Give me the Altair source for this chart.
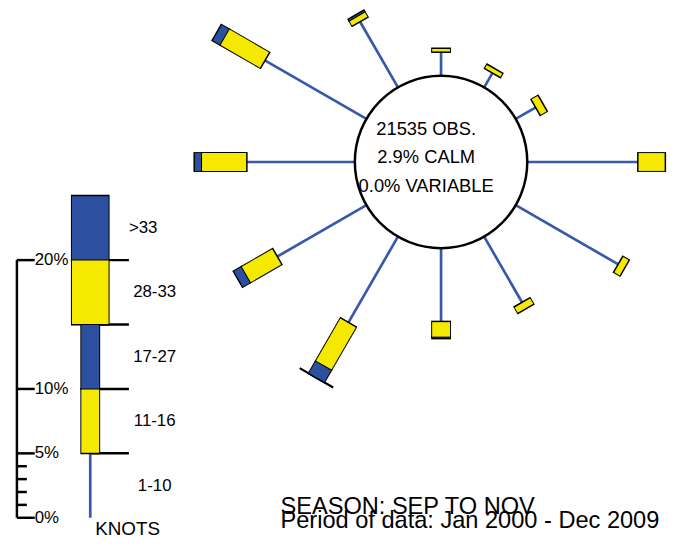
import altair as alt
import pandas as pd
import numpy as np

# ---------------- data ----------------
directions = [0, 30, 60, 90, 120, 150, 180, 210, 240, 270, 300, 330]
pct_1_10 = [1.85, 1.3, 1.8, 8.6, 9.2, 5.9, 5.7, 7.7, 8.0, 8.4, 9.1, 5.9]
pct_11_16 = [0.27, 0.35, 0.6, 2.1, 0.55, 0.55, 1.2, 3.85, 2.8, 3.5, 3.6, 0.45]
pct_17_27 = [0, 0, 0, 0, 0, 0, 0.1, 1.1, 0.7, 0.55, 0.7, 0.15]
pct_28_33 = [0, 0, 0, 0, 0, 0, 0, 0.01, 0, 0, 0, 0]
pct_gt_33 = [0, 0, 0, 0, 0, 0, 0, 0, 0, 0, 0, 0]

speed_labels = ["1-10", "11-16", "17-27", "28-33", ">33"]
legend_step = 5
axis_major = [0, 5, 10, 20]
axis_minor = [1, 2, 3, 4]
right_ticks = [5, 10, 15, 20]
obs_lines = ["21535 OBS.", "2.9% CALM", "0.0% VARIABLE"]
footer_lines = ["SEASON: SEP TO NOV", "Period of data: Jan 2000 - Dec 2009"]
units_label = "KNOTS"

# ---------------- layout / style constants ----------------
W, H = 665, 530
PX = 13.0                      # pixels per 1 %
CX, CY = 437, 153              # rose centre (plot px)
XMIN, XMAX = -CX / PX, (W - CX) / PX
YMIN, YMAX = -(H - CY) / PX, CY / PX
R = 87 / PX                    # calm circle radius in % units

def px_x(p):
    return (p - CX) / PX

def px_y(p):
    return (CY - p) / PX

YELLOW = "#f6e900"
BLUE = "#2d4f9f"
LINE_BLUE = "#3858a8"
FONT = "Liberation Sans"

series = [pct_1_10, pct_11_16, pct_17_27, pct_28_33, pct_gt_33]
seg_color = {1: YELLOW, 2: BLUE, 3: YELLOW, 4: BLUE}
seg_width = {1: (20, 18), 2: (20, 18), 3: (39, 37), 4: (39, 37)}
E = 1.0 / PX
F = 0.5 / PX

lines, outl, fills = [], [], []

def add_segment(k, p0, p1, ux, uy, ox, oy):
    if k == 0:
        lines.append(dict(x=ox + p0 * ux, y=oy + p0 * uy, x2=ox + p1 * ux, y2=oy + p1 * uy))
        return
    wo, wf = seg_width[k]
    outl.append(dict(x=ox + (p0 - E) * ux, y=oy + (p0 - E) * uy,
                     x2=ox + (p1 + E) * ux, y2=oy + (p1 + E) * uy, w=wo))
    if p1 - p0 > 2 * F:
        fills.append(dict(x=ox + (p0 + F) * ux, y=oy + (p0 + F) * uy,
                          x2=ox + (p1 - F) * ux, y2=oy + (p1 - F) * uy,
                          w=wf, c=seg_color[k]))

# rose
for i, d in enumerate(directions):
    th = np.radians(d)
    ux, uy = np.sin(th), np.cos(th)
    r = R
    for k, s in enumerate(series):
        v = s[i]
        if v <= 0:
            continue
        add_segment(k, r, r + v, ux, uy, 0.0, 0.0)
        r += v

# legend bar
LX = px_x(83)
BASE = px_y(512)
for k in range(len(speed_labels)):
    add_segment(k, k * legend_step, (k + 1) * legend_step, 0.0, 1.0, LX, BASE)

df_lines = pd.DataFrame(lines)
df_out = pd.DataFrame(outl)
df_fill = pd.DataFrame(fills)

xs = alt.Scale(domain=[XMIN, XMAX], nice=False, zero=False)
ys = alt.Scale(domain=[YMIN, YMAX], nice=False, zero=False)

def X(f="x"):
    return alt.X(f + ":Q", scale=xs, axis=None)

def Y(f="y"):
    return alt.Y(f + ":Q", scale=ys, axis=None)

AX = px_x(9)
TICK_MAJ = 18 / PX
TICK_MIN = 10 / PX
RX = px_x(122)

ticks = []
for p in axis_major:
    ticks.append(dict(x=AX, x2=AX + TICK_MAJ, y=BASE + p, y2=BASE + p))
for p in axis_minor:
    ticks.append(dict(x=AX, x2=AX + TICK_MIN, y=BASE + p, y2=BASE + p))
ticks.append(dict(x=AX, x2=AX, y=BASE, y2=BASE + max(axis_major)))
for p in right_ticks:
    ticks.append(dict(x=LX, x2=RX, y=BASE + p, y2=BASE + p))
df_ticks = pd.DataFrame(ticks)

df_axlab = pd.DataFrame(dict(x=[AX + TICK_MAJ] * len(axis_major),
                             y=[BASE + p for p in axis_major],
                             t=[f"{p}%" for p in axis_major]))
mid = [BASE + (k + 0.5) * legend_step for k in range(len(speed_labels))]
df_leg = pd.DataFrame(dict(x=[px_x(148)] * 4, y=mid[:4], t=speed_labels[:4]))
df_leg2 = pd.DataFrame(dict(x=[px_x(122)], y=[mid[4]], t=[speed_labels[4]]))
df_units = pd.DataFrame(dict(x=[px_x(88)], y=[px_y(529)], t=[units_label]))
df_obs = pd.DataFrame(dict(x=[px_x(422)] * 3,
                           y=[px_y(125.5), px_y(154.5), px_y(183)], t=obs_lines))
df_foot = pd.DataFrame(dict(x=[px_x(275)] * 2, y=[px_y(508), px_y(522)], t=footer_lines))
df_circle = pd.DataFrame(dict(x=[0.0], y=[0.0]))

layer_ticks = alt.Chart(df_ticks).mark_rule(color="black", strokeWidth=2.5).encode(
    x=X(), y=Y(), x2="x2:Q", y2="y2:Q")
layer_lines = alt.Chart(df_lines).mark_rule(color=LINE_BLUE, strokeWidth=2.7).encode(
    x=X(), y=Y(), x2="x2:Q", y2="y2:Q")
layer_out = alt.Chart(df_out).mark_rule(color="black", strokeCap="butt").encode(
    x=X(), y=Y(), x2="x2:Q", y2="y2:Q",
    strokeWidth=alt.StrokeWidth("w:Q", scale=None))
layer_fill = alt.Chart(df_fill).mark_rule(strokeCap="butt").encode(
    x=X(), y=Y(), x2="x2:Q", y2="y2:Q",
    strokeWidth=alt.StrokeWidth("w:Q", scale=None),
    color=alt.Color("c:N", scale=None))
layer_circle = alt.Chart(df_circle).mark_circle(
    size=174 ** 2, fill="white", stroke="black", strokeWidth=2.5, opacity=1
).encode(x=X(), y=Y())

def text_layer(df, size, align="left", baseline="middle"):
    return alt.Chart(df).mark_text(font=FONT, fontSize=size, align=align,
                                   baseline=baseline, color="black").encode(
        x=X(), y=Y(), text="t:N")

chart = alt.layer(
    layer_ticks,
    layer_lines,
    layer_out,
    layer_fill,
    layer_circle,
    text_layer(df_axlab, 17),
    text_layer(df_leg, 17, align="center"),
    text_layer(df_leg2, 17),
    text_layer(df_units, 19, baseline="alphabetic"),
    text_layer(df_obs, 18.5, align="center", baseline="alphabetic"),
    text_layer(df_foot, 23.8, baseline="alphabetic"),
).properties(
    width=W, height=H, padding=0, autosize="none"
).configure_view(strokeWidth=0)

chart.save("out.html", embed_options={"renderer": "svg", "actions": False})
